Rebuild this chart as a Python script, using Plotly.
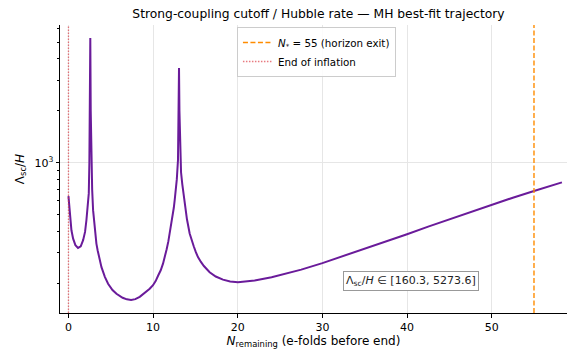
import numpy as np
import plotly.graph_objects as go

# e-folds remaining before the end of inflation
n_remaining = [
    0.0, 0.12, 0.23, 0.35, 0.55, 0.82, 1.13, 1.45, 1.73, 1.96, 2.12, 2.28, 2.4,
    2.47, 2.53, 2.58, 2.63, 2.7, 2.8, 2.91, 3.0, 3.1, 3.2, 3.3, 3.45, 3.6, 3.75,
    3.9, 4.3, 4.68, 5.2, 5.67, 6.4, 6.9, 7.4, 7.9, 8.42, 9.0, 9.6, 9.99, 10.3,
    10.6, 10.9, 11.17, 11.4, 11.6, 11.8, 11.96, 12.15, 12.3, 12.45, 12.55, 12.7,
    12.8, 12.94, 13.01, 13.06, 13.11, 13.2, 13.3, 13.45, 13.6, 13.73, 14.0,
    14.32, 14.55, 14.8, 15.05, 15.3, 15.65, 16.0, 16.68, 17.4, 18.25, 19.1,
    20.02, 22.0, 24.0, 25.4, 27.5, 30.0, 32.5, 35.0, 37.5, 40.0, 42.5, 45.0,
    47.5, 50.0, 52.5, 55.0, 58.3,
]
# strong-coupling cutoff over Hubble rate along the trajectory
cutoff_over_h = [
    640, 555, 464, 406, 363, 333, 321, 328, 356, 397, 464, 555, 664,
    1000, 2000, 5273.6, 2000, 1000, 700, 531, 470, 420, 375, 340, 310, 285, 265,
    248, 218, 199, 183, 174, 165, 161.5, 160.3, 162, 167, 176, 186, 195, 206,
    222, 238, 260, 285, 315, 350, 389, 430, 480, 550, 607, 700,
    800, 1037, 2000, 3540, 2000, 1037, 880, 750, 650, 581, 470,
    389, 355, 328, 303, 284, 266, 252, 232, 219, 210, 205,
    203, 208, 217, 226, 240, 262, 288, 318, 350, 385, 426, 470,
    519, 571, 627, 685, 769,
]
n_star = 55
n_end = 0
x_tick_vals = [0, 10, 20, 30, 40, 50]
y_tick_vals = [1000]
y_tick_text = ["10<sup>3</sup>"]
y_minor_vals = [200, 300, 400, 500, 600, 700, 800, 900, 2000, 3000, 4000, 5000, 6000]

vmin, vmax = min(cutoff_over_h), max(cutoff_over_h)
lo, hi = np.log10(vmin), np.log10(vmax)
pad = 0.05 * (hi - lo)
y_range = [lo - pad, hi + pad]
y_span = [10 ** y_range[0], 10 ** y_range[1]]

FONT = "DejaVu Sans"

fig = go.Figure()
fig.add_trace(go.Scatter(
    x=n_remaining, y=cutoff_over_h, mode="lines",
    line=dict(color="#6a1b9a", width=2), showlegend=False,
))
fig.add_trace(go.Scatter(
    x=[n_star, n_star], y=y_span, mode="lines",
    line=dict(color="#ff8c00", width=1.4, dash="5px,2.5px"),
    name="<i>N</i><sub>*</sub> = 55 (horizon exit)",
))
fig.add_trace(go.Scatter(
    x=[n_end, n_end], y=y_span, mode="lines",
    line=dict(color="rgba(220,50,60,0.65)", width=1.3, dash="1.5px,1.5px"),
    name="End of inflation",
))

fig.add_annotation(
    x=0.692, y=0.11, xref="paper", yref="paper", xanchor="center", yanchor="middle",
    text=f"Λ<sub>sc</sub>/<i>H</i> ∈ [{vmin:.1f}, {vmax:.1f}]",
    showarrow=False, font=dict(family=FONT, size=11, color="#222"),
    bgcolor="white", bordercolor="#999", borderwidth=1, borderpad=2,
)

fig.update_layout(
    width=568, height=351,
    margin=dict(l=60, r=1, t=25, b=38),
    paper_bgcolor="white", plot_bgcolor="white",
    font=dict(family=FONT, size=11, color="black"),
    title=dict(
        text="Strong-coupling cutoff / Hubble rate — MH best-fit trajectory",
        x=318.5 / 568, xanchor="center", y=0.96, yanchor="middle",
        font=dict(family=FONT, size=12.3),
    ),
    legend=dict(
        x=0.349, y=0.993, xanchor="left", yanchor="top",
        bgcolor="rgba(255,255,255,0.85)", bordercolor="#ccc", borderwidth=1,
        font=dict(family=FONT, size=10.3), itemwidth=30, tracegroupgap=0,
    ),
)
fig.update_xaxes(
    range=[-1, 58.9], tickvals=x_tick_vals, ticks="outside", ticklen=3.5,
    tickcolor="black", showline=True, linecolor="black", linewidth=1,
    showgrid=True, gridcolor="#e6e6e6", gridwidth=1, zeroline=False,
    tickfont=dict(size=11),
    title=dict(text="<i>N</i><sub>remaining</sub> (e-folds before end)",
               standoff=3, font=dict(size=12)),
)
fig.update_yaxes(
    type="log", range=y_range, tickvals=y_tick_vals, ticktext=y_tick_text,
    ticks="outside", ticklen=3.5, tickcolor="black", showline=True,
    linecolor="black", linewidth=1, showgrid=True, gridcolor="#e6e6e6",
    zeroline=False, tickfont=dict(size=11),
    minor=dict(tickvals=y_minor_vals, ticks="outside", ticklen=2,
               tickcolor="black", showgrid=False),
    title=dict(text="Λ<sub>sc</sub>/<i>H</i>", standoff=7, font=dict(size=12)),
)

fig.write_html("out.html")
